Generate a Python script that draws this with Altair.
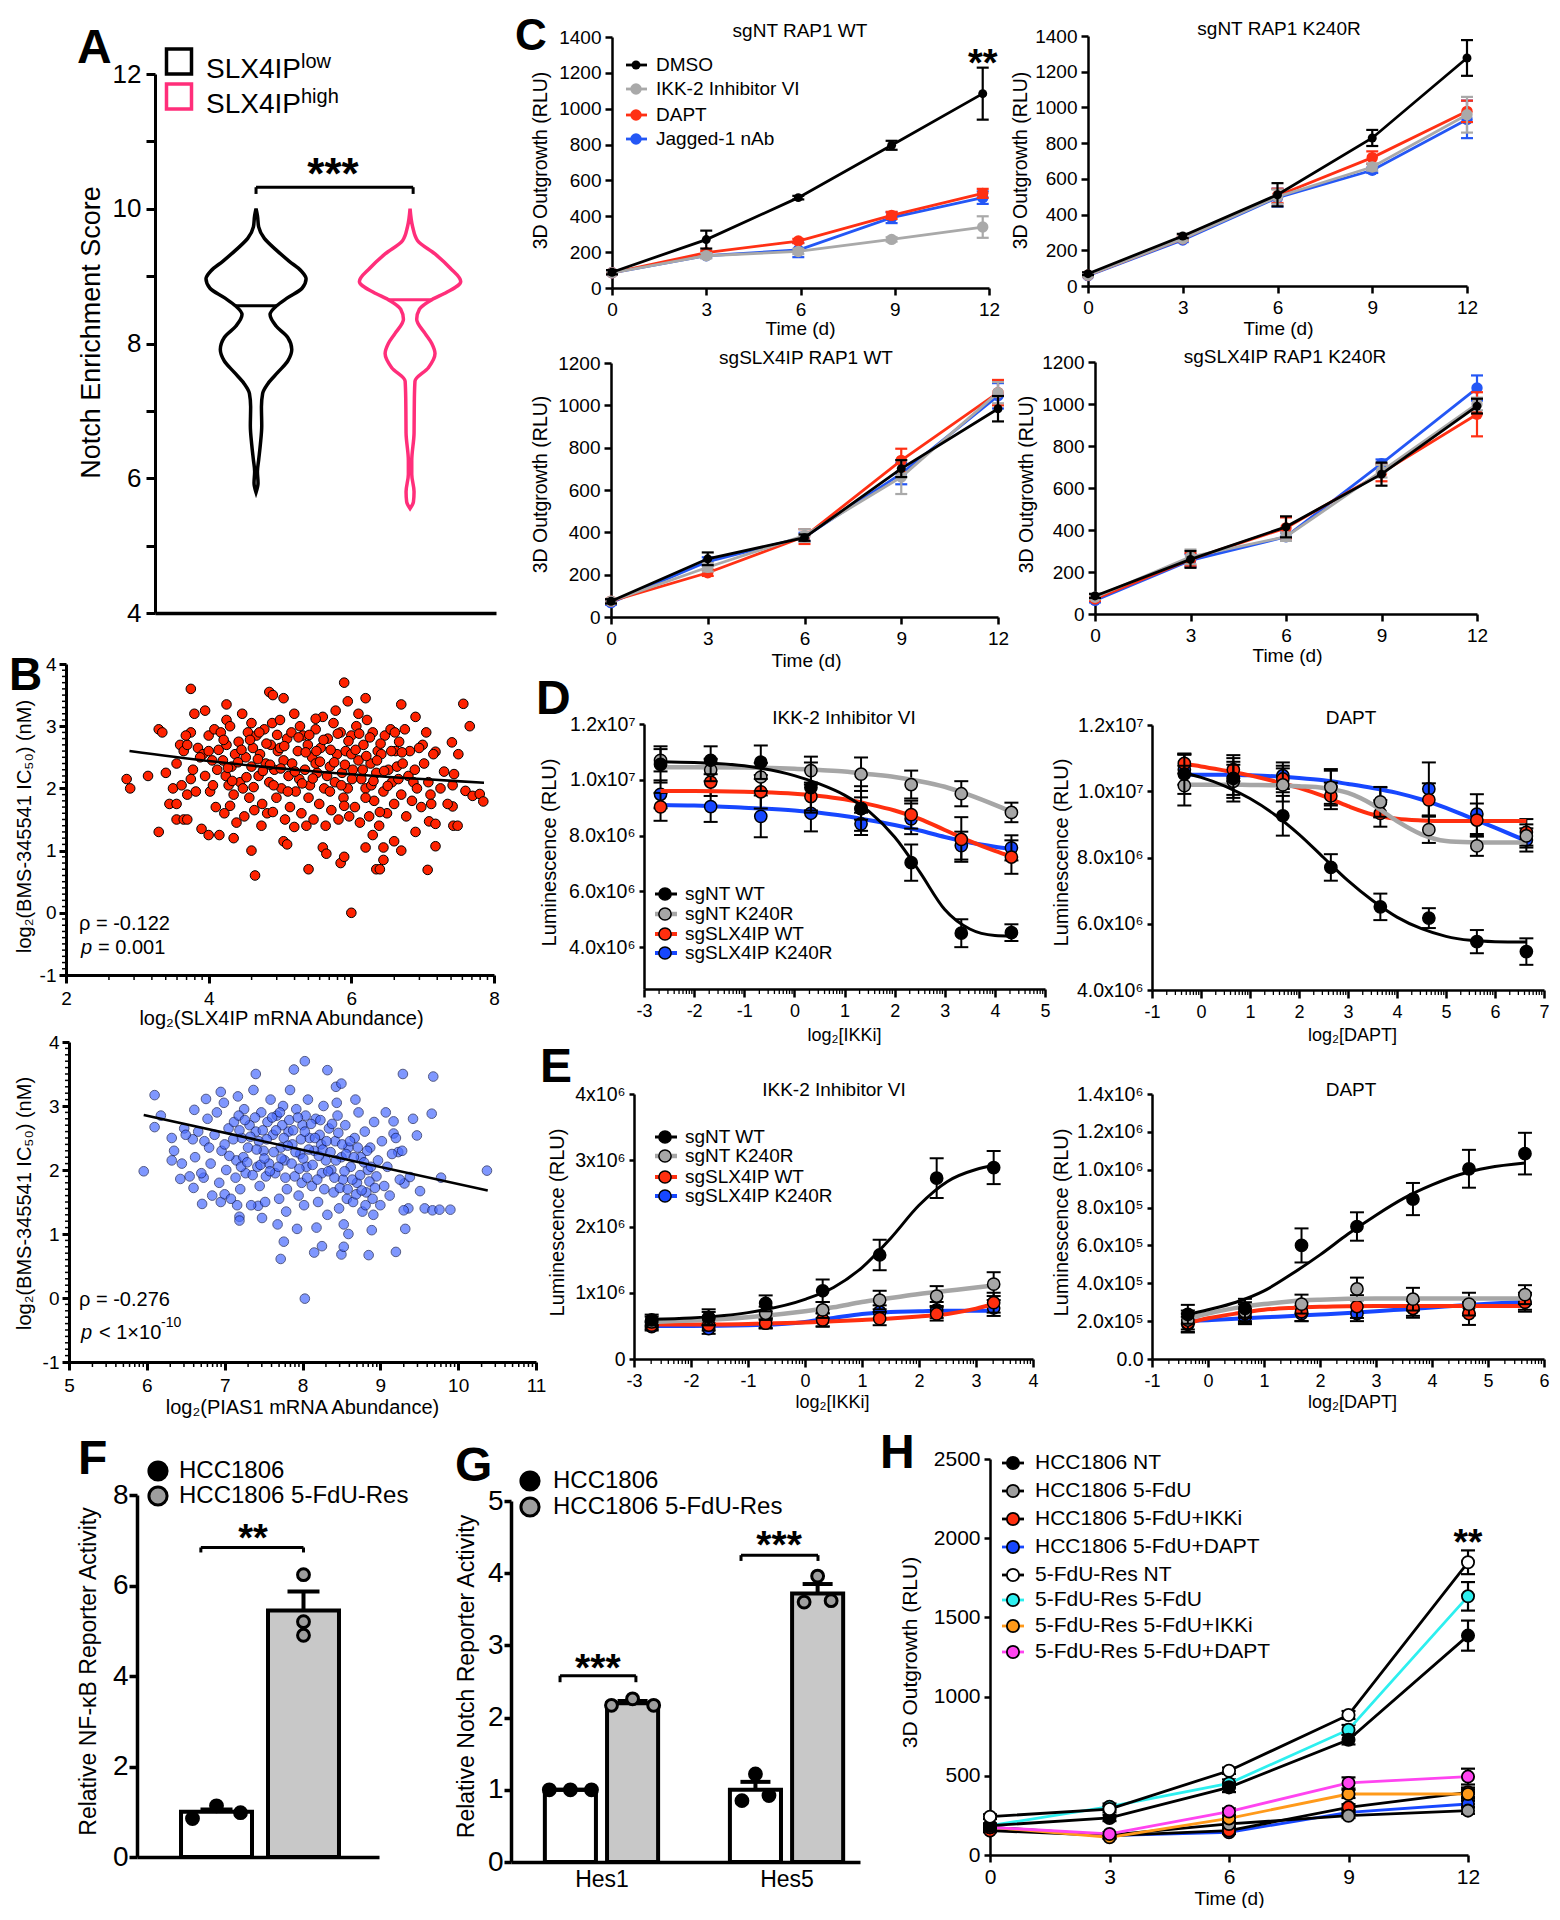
import math
import altair as alt
import pandas as pd

OFF = 8
CW, CH = 1544, 1900
FONT = "Liberation Sans"
BLACK = "#000000"
GRAY = "#A6A6A6"
RED = "#FF2F0F"
BLUE = "#1747FF"
PINK = "#FF2E7A"

# ---------------- data ----------------
# A: violin outlines (score, half width in x units)
A_LOW_V = [10.0, 9.90, 9.73, 9.56, 9.39, 9.22, 9.08, 8.96, 8.82, 8.68, 8.56, 8.43, 8.26,
           8.09, 7.91, 7.74, 7.57, 7.40, 7.26, 7.06, 6.78, 6.50, 6.27, 6.10, 5.93, 5.79]
A_LOW_HW = [0.0, 0.009, 0.017, 0.054, 0.13, 0.216, 0.292, 0.325, 0.299, 0.206, 0.134, 0.091, 0.13,
            0.206, 0.232, 0.206, 0.141, 0.076, 0.043, 0.035, 0.037, 0.028, 0.017, 0.009, 0.013, 0.0]
A_HIGH_V = [10.0, 9.73, 9.53, 9.33, 9.12, 8.92, 8.76, 8.65, 8.51, 8.36, 8.15, 8.0, 7.85,
            7.64, 7.44, 7.18, 6.67, 6.26, 6.06, 5.80, 5.65, 5.55]
A_HIGH_HW = [0.0, 0.017, 0.048, 0.162, 0.26, 0.329, 0.238, 0.141, 0.061, 0.043, 0.097, 0.141, 0.162,
             0.119, 0.032, 0.028, 0.026, 0.011, 0.011, 0.026, 0.022, 0.0]
A_MEDIAN = [8.56, 8.65]
A_MEDIAN_HW = [0.13, 0.145]
A_GROUPS = ["SLX4IP", "SLX4IP"]
A_SUPS = ["low", "high"]

# C: 3D outgrowth
C_SERIES = ["DMSO", "IKK-2 Inhibitor VI", "DAPT", "Jagged-1 nAb"]
C_TIME = [0, 3, 6, 9, 12]
C1_TIME = [0, 3, 5.93, 8.9, 11.8]
C1_MEAN = [[88, 270, 504, 796, 1084], [85, 180, 204, 271, 340], [85, 197, 262, 405, 528], [85, 180, 212, 392, 504]]
C1_ERR = [[12, 50, 10, 25, 145], [10, 15, 15, 12, 60], [8, 10, 12, 20, 25], [8, 10, 40, 30, 35]]
C2_MEAN = [[69, 280, 511, 829, 1277], [60, 265, 500, 666, 959], [60, 265, 505, 719, 978], [58, 258, 495, 648, 933]]
C2_ERR = [[8, 12, 65, 45, 100], [8, 12, 40, 20, 100], [8, 12, 40, 35, 60], [8, 12, 50, 15, 105]]
C3_MEAN = [[74, 275, 375, 701, 984], [75, 235, 385, 661, 1060], [75, 209, 380, 740, 1060], [68, 262, 378, 677, 1045]]
C3_ERR = [[10, 30, 15, 40, 60], [10, 20, 30, 80, 50], [10, 15, 35, 55, 60], [10, 20, 20, 50, 60]]
C4_MEAN = [[86, 260, 415, 666, 990], [80, 272, 368, 680, 1000], [72, 260, 410, 672, 951], [65, 255, 368, 716, 1076]]
C4_ERR = [[10, 40, 50, 55, 35], [10, 35, 20, 30, 30], [10, 30, 50, 40, 105], [10, 30, 20, 20, 60]]
C_TITLES = ["sgNT RAP1 WT", "sgNT RAP1 K240R", "sgSLX4IP RAP1 WT", "sgSLX4IP RAP1 K240R"]

# B: scatter (x, y)
B1_XY = [
    (2.85, 2.15), (2.9, 2.0), (3.15, 2.2), (3.3, 2.95), (3.35, 2.9), (3.3, 1.3), (3.4, 2.25), (3.5, 2.0),
    (3.45, 1.75), (3.55, 1.75), (3.55, 1.5), (3.65, 1.5), (3.7, 1.5), (3.6, 2.7), (3.65, 2.6), (3.75, 3.6),
    (3.75, 2.9), (3.8, 3.2), (3.75, 2.15), (3.7, 1.9), (3.85, 2.65), (3.9, 1.35), (3.95, 3.25), (4.0, 2.85),
    (4.0, 1.25), (4.15, 1.25), (4.35, 1.2), (4.25, 3.35), (4.25, 3.1), (4.6, 1.0), (4.65, 0.6), (4.85, 3.55),
    (4.9, 3.5), (5.05, 3.45), (5.05, 1.15), (5.1, 1.1), (5.4, 0.7), (5.6, 1.05), (5.65, 0.95), (5.85, 0.8),
    (5.9, 3.7), (5.95, 3.4), (5.9, 0.9), (6.0, 0.0), (6.1, 3.2), (6.2, 3.45), (6.2, 1.05), (6.3, 1.25),
    (6.35, 0.7), (6.4, 0.7), (6.45, 0.85), (6.45, 1.05), (6.6, 1.15), (6.7, 3.35), (6.7, 1.0), (6.9, 3.15),
    (6.9, 1.3), (7.0, 2.7), (7.09, 1.47), (7.07, 0.69), (7.11, 1.9), (7.18, 1.43), (7.18, 1.07), (7.18, 2.59),
    (7.41, 2.74), (7.3, 2.27), (7.44, 2.23), (7.42, 1.71), (7.43, 1.4), (7.49, 1.4), (7.6, 1.96), (7.57, 3.36),
    (7.66, 3.0), (7.7, 1.88), (7.8, 1.91), (7.85, 1.79),
    (3.92, 2.55), (3.95, 2.2), (4.0, 2.6), (4.02, 1.95), (4.05, 2.45), (4.08, 2.95), (4.1, 1.7), (4.12, 2.3),
    (4.14, 2.62), (4.06, 2.05), (4.17, 2.9), (4.2, 2.45), (4.22, 1.6), (4.25, 2.7), (4.28, 2.05), (4.3, 3.0),
    (4.32, 2.35), (4.35, 1.9), (4.37, 2.55), (4.39, 1.45), (4.24, 2.2), (4.42, 2.75), (4.44, 2.1), (4.47, 3.2),
    (4.5, 1.55), (4.52, 2.5), (4.55, 2.9), (4.57, 1.85), (4.6, 2.35), (4.62, 2.65), (4.64, 1.65), (4.48, 2.0),
    (4.67, 2.85), (4.7, 2.2), (4.72, 2.55), (4.75, 1.75), (4.78, 2.95), (4.8, 2.4), (4.82, 1.6), (4.85, 2.1),
    (4.87, 2.7), (4.89, 3.05), (4.74, 1.4), (4.92, 2.3), (4.95, 1.85), (4.97, 2.6), (5.0, 3.1), (5.02, 2.0),
    (5.05, 2.45), (5.07, 1.5), (5.1, 2.8), (5.12, 2.2), (5.14, 1.7), (5.0, 2.65), (5.17, 2.4), (5.2, 3.2),
    (5.22, 1.95), (5.25, 2.6), (5.27, 2.15), (5.3, 1.6), (5.32, 2.85), (5.35, 2.3), (5.37, 1.4), (5.39, 2.7),
    (5.28, 3.0), (5.42, 2.05), (5.45, 2.5), (5.47, 1.5), (5.5, 2.95), (5.52, 2.25), (5.55, 1.75), (5.57, 2.65),
    (5.6, 3.15), (5.62, 2.0), (5.64, 1.4), (5.5, 2.4), (5.67, 2.8), (5.7, 2.35), (5.72, 1.65), (5.75, 3.05),
    (5.77, 2.1), (5.8, 2.55), (5.82, 1.5), (5.85, 2.9), (5.87, 2.25), (5.89, 1.85), (5.78, 3.25), (5.92, 2.6),
    (5.95, 2.0), (5.97, 1.55), (6.0, 2.85), (6.02, 2.3), (6.05, 1.7), (6.07, 3.0), (6.1, 2.45), (6.12, 1.45),
    (6.14, 2.15), (6.0, 2.55), (6.17, 2.7), (6.2, 2.0), (6.22, 3.1), (6.25, 1.55), (6.27, 2.4), (6.3, 2.9),
    (6.32, 1.8), (6.35, 2.25), (6.37, 2.6), (6.39, 1.4), (6.28, 2.05), (6.42, 2.55), (6.45, 1.95), (6.47, 2.85),
    (6.5, 1.6), (6.52, 2.3), (6.55, 2.95), (6.57, 2.1), (6.6, 1.75), (6.62, 2.6), (6.64, 2.35), (6.67, 2.75),
    (6.7, 1.9), (6.72, 2.4), (6.75, 2.95), (6.77, 1.55), (6.8, 2.2), (6.82, 2.6), (6.85, 1.8), (6.87, 2.1),
    (6.89, 2.3), (6.92, 2.0), (6.95, 2.65), (6.98, 1.7), (7.02, 2.4), (7.05, 2.9), (7.08, 2.1), (7.12, 1.75),
    (7.15, 2.55), (3.55, 2.4), (3.62, 2.05), (3.7, 2.7), (3.78, 2.3), (3.82, 1.95), (3.88, 2.5), (3.68, 2.85),
    (7.25, 2.0), (7.35, 1.75), (7.5, 2.55), (7.42, 2.05),
    (4.21, 2.78), (4.27, 2.33), (4.33, 2.12), (4.41, 2.42), (4.46, 2.62), (4.53, 2.18), (4.58, 2.78), (4.63, 2.02),
    (4.69, 2.47), (4.71, 2.9), (4.76, 2.28), (4.81, 2.72), (4.86, 2.38), (4.91, 2.05), (4.96, 2.86), (5.01, 2.32),
    (5.06, 2.68), (5.11, 1.95), (5.16, 2.9), (5.21, 2.27), (5.26, 2.82), (5.31, 2.08), (5.36, 2.58), (5.41, 2.86),
    (5.46, 2.16), (5.51, 2.6), (5.56, 2.43), (5.61, 2.78), (5.66, 2.2), (5.71, 2.62), (5.76, 2.42), (5.81, 2.88),
    (5.86, 2.05), (5.91, 2.38), (5.96, 2.76), (6.01, 2.15), (6.06, 2.62), (6.11, 2.88), (6.16, 2.3), (6.21, 2.52),
    (6.26, 2.82), (6.31, 2.12), (6.36, 2.45), (6.41, 2.72), (6.46, 2.28), (6.51, 2.04), (6.56, 2.6), (6.61, 2.9),
    (6.66, 2.15), (6.71, 2.58), (4.3, 1.72), (4.9, 1.62), (5.4, 1.85), (5.9, 1.72), (6.4, 1.62), (5.2, 1.38),
    (5.7, 1.95), (6.2, 1.85), (4.6, 3.05), (5.5, 3.12)]
B2_XY = [
    (5.96, 1.98), (6.1, 3.17), (6.1, 2.67), (6.18, 2.85), (6.32, 2.5), (6.32, 2.15), (6.43, 1.86), (6.48, 2.65),
    (6.6, 1.72), (6.59, 2.48), (6.61, 2.94), (6.71, 1.47), (6.73, 1.88), (6.76, 3.11), (6.95, 3.22), (6.95, 1.5),
    (7.0, 1.62), (7.16, 1.45), (7.19, 1.27), (7.19, 1.21), (7.4, 3.5), (7.43, 1.44), (7.72, 0.61), (7.76, 0.88),
    (7.89, 3.57), (7.93, 1.08), (8.03, 3.7), (8.03, -0.01), (8.15, 0.71), (8.25, 0.81), (8.32, 3.56), (8.43, 3.3),
    (8.5, 3.35), (8.5, 0.68), (8.53, 0.8), (8.59, 1.0), (8.85, 0.67), (8.89, 1.06), (9.2, 0.72), (9.29, 3.5),
    (9.32, 1.08), (9.42, 2.8), (9.47, 2.54), (9.51, 1.67), (9.57, 1.4), (9.66, 2.88), (9.68, 3.46), (9.67, 1.37),
    (9.76, 1.38), (9.78, 1.88), (9.9, 1.38), (10.37, 1.99), (9.17, 2.76), (9.17, 2.57), (9.23, 2.28), (9.31, 1.79),
    (9.36, 1.4), (9.3, 1.37), (9.38, 1.89),
    (6.62, 2.2), (6.66, 2.6), (6.7, 1.95), (6.74, 2.45), (6.78, 2.8), (6.82, 2.1), (6.84, 1.6), (6.8, 2.35),
    (6.87, 2.55), (6.9, 2.9), (6.93, 1.8), (6.96, 2.3), (6.99, 3.05), (7.02, 2.0), (7.05, 2.65), (7.08, 1.55),
    (7.0, 2.4), (7.12, 2.75), (7.15, 2.15), (7.17, 3.15), (7.2, 1.7), (7.22, 2.5), (7.25, 2.95), (7.27, 1.95),
    (7.3, 2.35), (7.32, 2.7), (7.34, 1.45), (7.24, 2.2), (7.18, 2.85), (7.37, 3.25), (7.4, 2.6), (7.42, 2.05),
    (7.45, 1.75), (7.47, 2.9), (7.5, 2.3), (7.52, 1.5), (7.55, 2.75), (7.57, 2.1), (7.59, 3.1), (7.44, 2.45),
    (7.53, 1.9), (7.48, 1.25), (7.62, 2.55), (7.65, 1.95), (7.67, 2.85), (7.7, 1.55), (7.72, 2.35), (7.75, 3.0),
    (7.77, 2.15), (7.8, 1.7), (7.82, 2.6), (7.84, 3.25), (7.68, 1.15), (7.74, 2.7), (7.79, 1.35), (7.87, 2.4),
    (7.9, 1.9), (7.92, 2.95), (7.95, 1.6), (7.97, 2.25), (8.0, 2.7), (8.02, 1.45), (8.05, 2.05), (8.07, 3.1),
    (8.09, 2.5), (7.99, 1.8), (8.04, 2.85), (8.12, 1.75), (8.15, 2.3), (8.17, 2.8), (8.2, 1.5), (8.22, 2.55),
    (8.25, 1.95), (8.27, 3.0), (8.3, 2.15), (8.32, 1.3), (8.34, 2.65), (8.18, 1.1), (8.24, 2.4), (8.37, 2.0),
    (8.4, 1.65), (8.42, 2.45), (8.45, 2.85), (8.47, 1.4), (8.5, 2.2), (8.52, 1.85), (8.55, 2.7), (8.57, 1.55),
    (8.59, 2.35), (8.44, 3.05), (8.53, 1.15), (8.62, 2.05), (8.65, 1.5), (8.67, 2.5), (8.7, 1.8), (8.72, 2.9),
    (8.75, 2.2), (8.77, 1.35), (8.8, 2.6), (8.82, 1.65), (8.84, 2.0), (8.68, 3.1), (8.87, 2.35), (8.9, 1.55),
    (8.92, 2.75), (8.95, 1.9), (8.97, 2.15), (9.0, 1.45), (9.02, 2.45), (9.05, 1.75), (9.07, 2.9), (9.09, 2.05),
    (9.12, 1.6), (9.15, 2.25), (9.2, 2.5), (9.25, 1.85), (9.28, 2.3), (6.35, 2.3), (6.45, 2.1), (6.5, 2.55),
    (6.55, 1.9),
    (7.06, 2.22), (7.11, 2.48), (7.14, 1.88), (7.19, 2.62), (7.21, 2.05), (7.26, 2.78), (7.29, 2.12), (7.33, 2.52),
    (7.36, 1.92), (7.39, 2.82), (7.41, 2.32), (7.46, 2.08), (7.49, 2.62), (7.51, 2.18), (7.54, 2.48), (7.58, 1.98),
    (7.61, 2.82), (7.63, 2.28), (7.66, 2.62), (7.69, 2.05), (7.71, 2.9), (7.73, 2.18), (7.76, 2.5), (7.78, 1.88),
    (7.81, 2.38), (7.83, 2.78), (7.86, 2.1), (7.88, 2.62), (7.91, 2.28), (7.94, 2.82), (7.96, 2.02), (7.98, 2.48),
    (8.01, 2.18), (8.03, 2.6), (8.06, 1.88), (8.08, 2.32), (8.11, 2.72), (8.13, 2.08), (8.16, 2.5), (8.19, 1.85),
    (8.21, 2.22), (8.23, 2.78), (8.26, 2.32), (8.28, 1.7), (8.31, 2.45), (8.33, 1.98), (8.36, 2.28), (8.38, 2.72),
    (8.41, 1.88), (8.43, 2.15), (8.46, 2.58), (8.48, 1.72), (8.51, 2.4), (8.54, 1.98), (8.56, 2.25), (8.58, 1.7),
    (8.61, 2.45), (8.64, 1.85), (8.66, 2.2), (8.69, 1.62), (8.71, 2.35), (8.74, 1.92), (8.76, 1.68), (8.79, 2.12),
    (8.81, 1.45), (8.83, 2.3), (8.86, 1.82), (8.88, 2.05), (8.91, 1.3), (8.93, 1.72)]
B1_LINE_X = [2.89, 4.0, 5.5, 7.86]
B1_LINE_Y = [2.60, 2.44, 2.27, 2.09]
B2_LINE_X = [5.96, 10.38]
B2_LINE_Y = [2.86, 1.68]

# D / E: dose response
DE_SERIES = ["sgNT WT", "sgNT K240R", "sgSLX4IP WT", "sgSLX4IP K240R"]
D1_X = [-2.67, -1.67, -0.67, 0.33, 1.33, 2.33, 3.33, 4.33]
D1_MEAN = [[10.55, 10.7, 10.63, 9.72, 8.97, 7.03, 4.5, 4.52],
           [10.7, 10.35, 10.1, 10.33, 10.2, 9.83, 9.5, 8.83],
           [9.03, 9.92, 9.57, 9.4, 8.97, 8.75, 7.86, 7.23],
           [9.48, 9.04, 8.69, 8.8, 8.42, 8.6, 7.64, 7.56]]
D1_ERR = [[0.65, 0.5, 0.6, 0.9, 0.8, 0.65, 0.5, 0.3],
          [0.4, 0.4, 0.5, 0.5, 0.6, 0.5, 0.45, 0.35],
          [0.5, 0.5, 0.6, 0.5, 0.4, 0.5, 0.8, 0.6],
          [0.5, 0.55, 0.75, 0.65, 0.4, 0.55, 0.5, 0.45]]
D1_CX = [-2.67, -2, -1, 0, 0.5, 1, 1.5, 2, 2.5, 3, 3.5, 4, 4.33]
D1_CURVE = [[10.65, 10.62, 10.5, 10.15, 9.85, 9.45, 8.85, 7.95, 6.7, 5.35, 4.65, 4.42, 4.4],
            [10.45, 10.45, 10.44, 10.4, 10.35, 10.3, 10.2, 10.1, 9.95, 9.75, 9.45, 9.1, 8.85],
            [9.6, 9.6, 9.57, 9.5, 9.42, 9.3, 9.12, 8.9, 8.6, 8.2, 7.8, 7.45, 7.25],
            [9.1, 9.08, 9.0, 8.9, 8.82, 8.7, 8.55, 8.38, 8.18, 7.95, 7.75, 7.6, 7.52]]
D2_X = [-0.34, 0.66, 1.67, 2.65, 3.66, 4.65, 5.63, 6.64]
D2_MEAN = [[10.52, 10.39, 9.26, 7.7, 6.51, 6.17, 5.46, 5.16],
           [10.17, 10.3, 10.19, 10.12, 9.68, 8.84, 8.35, 8.65],
           [10.84, 10.65, 10.37, 9.86, 9.33, 9.74, 9.13, 8.76],
           [10.65, 10.39, 10.47, 10.12, 9.66, 10.07, 9.31, 8.53]]
D2_ERR = [[0.6, 0.7, 0.6, 0.4, 0.4, 0.3, 0.35, 0.4],
          [0.6, 0.5, 0.5, 0.55, 0.45, 0.4, 0.3, 0.35],
          [0.3, 0.35, 0.4, 0.4, 0.4, 0.5, 0.5, 0.4],
          [0.45, 0.5, 0.4, 0.5, 0.45, 0.8, 0.6, 0.35]]
D2_CX = [-0.34, 0, 0.5, 1, 1.5, 2, 2.5, 3, 3.5, 4, 4.5, 5, 5.5, 6, 6.64]
D2_CURVE = [[10.55, 10.42, 10.15, 9.78, 9.3, 8.7, 8.0, 7.3, 6.7, 6.2, 5.85, 5.62, 5.5, 5.46, 5.45],
            [10.2, 10.2, 10.2, 10.19, 10.18, 10.15, 10.1, 9.95, 9.6, 9.1, 8.7, 8.5, 8.46, 8.45, 8.45],
            [10.82, 10.75, 10.62, 10.48, 10.3, 10.1, 9.85, 9.55, 9.3, 9.17, 9.12, 9.1, 9.1, 9.1, 9.1],
            [10.5, 10.5, 10.5, 10.48, 10.45, 10.4, 10.33, 10.22, 10.1, 9.95, 9.75, 9.5, 9.2, 8.9, 8.5]]
E1_X = [-2.69, -1.69, -0.69, 0.31, 1.31, 2.31, 3.31]
E1_MEAN = [[0.59, 0.63, 0.84, 1.03, 1.57, 2.73, 2.89],
           [0.56, 0.61, 0.69, 0.74, 0.89, 0.95, 1.13],
           [0.51, 0.51, 0.54, 0.59, 0.61, 0.68, 0.85],
           [0.49, 0.46, 0.54, 0.59, 0.71, 0.74, 0.77]]
E1_ERR = [[0.08, 0.12, 0.12, 0.17, 0.23, 0.3, 0.25],
          [0.08, 0.1, 0.1, 0.12, 0.14, 0.15, 0.18],
          [0.06, 0.08, 0.07, 0.1, 0.1, 0.1, 0.15],
          [0.06, 0.08, 0.08, 0.1, 0.1, 0.12, 0.12]]
E1_CX = [-2.69, -2, -1, 0, 0.5, 1, 1.5, 2, 2.5, 3, 3.31]
E1_CURVE = [[0.6, 0.62, 0.7, 0.9, 1.08, 1.38, 1.82, 2.32, 2.68, 2.86, 2.92],
            [0.56, 0.58, 0.63, 0.72, 0.78, 0.86, 0.92, 0.98, 1.03, 1.08, 1.11],
            [0.52, 0.52, 0.53, 0.55, 0.57, 0.59, 0.61, 0.64, 0.68, 0.76, 0.83],
            [0.5, 0.5, 0.51, 0.56, 0.62, 0.68, 0.71, 0.72, 0.73, 0.73, 0.73]]
E2_X = [-0.36, 0.66, 1.67, 2.66, 3.66, 4.66, 5.66]
E2_MEAN = [[0.236, 0.268, 0.60, 0.70, 0.845, 1.005, 1.085],
           [0.206, 0.25, 0.29, 0.37, 0.316, 0.29, 0.34],
           [0.19, 0.24, 0.25, 0.277, 0.268, 0.24, 0.30],
           [0.183, 0.224, 0.24, 0.24, 0.268, 0.28, 0.30]]
E2_ERR = [[0.05, 0.05, 0.09, 0.075, 0.085, 0.1, 0.11],
          [0.05, 0.05, 0.05, 0.06, 0.06, 0.06, 0.05],
          [0.05, 0.05, 0.05, 0.06, 0.05, 0.06, 0.05],
          [0.04, 0.04, 0.04, 0.04, 0.04, 0.04, 0.04]]
E2_CX = [-0.36, 0, 0.5, 1, 1.5, 2, 2.5, 3, 3.5, 4, 4.5, 5, 5.66]
E2_CURVE = [[0.235, 0.26, 0.3, 0.36, 0.45, 0.55, 0.66, 0.76, 0.85, 0.92, 0.975, 1.01, 1.035],
            [0.215, 0.24, 0.27, 0.29, 0.305, 0.313, 0.318, 0.32, 0.32, 0.32, 0.32, 0.32, 0.32],
            [0.19, 0.215, 0.24, 0.26, 0.27, 0.276, 0.279, 0.28, 0.28, 0.28, 0.28, 0.28, 0.28],
            [0.2, 0.205, 0.212, 0.22, 0.227, 0.235, 0.243, 0.252, 0.262, 0.272, 0.283, 0.292, 0.302]]

# F / G: reporter bars
FG_GROUPS = ["HCC1806", "HCC1806 5-FdU-Res"]
F_MEAN = [1.0, 5.45]
F_ERR = [0.05, 0.42]
F_POINTS = [[0.85, 1.13, 0.98], [6.24, 5.2, 4.9]]
G_GENES = ["Hes1", "Hes5"]
G_MEAN = [[1.0, 2.2], [1.0, 3.72]]
G_ERR = [[0.0, 0.03], [0.11, 0.13]]
G_POINTS = [[[1.0, 1.0, 1.0], [2.17, 2.26, 2.17]], [[0.85, 1.22, 0.92], [3.6, 3.96, 3.62]]]

# H: 3D outgrowth
H_SERIES = ["HCC1806 NT", "HCC1806 5-FdU", "HCC1806 5-FdU+IKKi", "HCC1806 5-FdU+DAPT",
            "5-FdU-Res NT", "5-FdU-Res 5-FdU", "5-FdU-Res 5-FdU+IKKi", "5-FdU-Res 5-FdU+DAPT"]
H_TIME = [0, 3, 6, 9, 12]
H_MEAN = [[185, 234, 427, 728, 1385], [175, 126, 196, 248, 280], [154, 122, 154, 301, 396],
          [175, 122, 143, 269, 322], [242, 290, 532, 884, 1848], [185, 305, 452, 791, 1633],
          [175, 112, 231, 385, 385], [175, 133, 274, 455, 495]]
H_ERR = [[15, 20, 30, 30, 95], [10, 15, 15, 15, 20], [10, 10, 15, 20, 30], [10, 10, 10, 15, 20],
         [15, 20, 20, 25, 75], [10, 20, 25, 30, 90], [10, 10, 20, 25, 30], [10, 10, 20, 35, 50]]

# ---------------- helpers ----------------
ONE = pd.DataFrame({"k": [0]})


def c(v):
    return v - OFF


class Panel:
    def __init__(self, xdom, ydom, l, r, t, b):
        self.xdom, self.ydom = list(xdom), list(ydom)
        self.l, self.r, self.t, self.b = l, r, t, b
        self.xs = alt.Scale(domain=self.xdom, range=[c(l), c(r)], nice=False, zero=False)
        self.ys = alt.Scale(domain=self.ydom, range=[c(b), c(t)], nice=False, zero=False)
        self.layers = []

    def upx(self):
        return (self.xdom[1] - self.xdom[0]) / (self.r - self.l)

    def X(self, f, axis=alt.Undefined):
        return alt.X(f, type="quantitative", scale=self.xs, axis=axis)

    def Y(self, f, axis=alt.Undefined):
        return alt.Y(f, type="quantitative", scale=self.ys, axis=axis)

    def add(self, *ls):
        self.layers.extend(ls)

    def chart(self):
        return alt.layer(*self.layers)


NUM = "'' + datum.value"


def ax_bottom(p, lsize=18, values=None, title=None, tsize=18, tdy=40, tx=None, tick=7, w=2.5, pad=5,
              expr=NUM, labels=True, ticks=True):
    kw = dict(orient="bottom", offset=c(p.b) - CH, grid=False, labelFlush=False, labelOverlap=False,
              labelAngle=0, domainColor="black", domainWidth=w, tickColor="black", tickWidth=w,
              tickSize=tick, labelColor="black", labelFontSize=lsize, labelFont=FONT, labelPadding=pad,
              ticks=ticks, labels=labels)
    if values is not None:
        kw["values"] = values
    if expr and labels:
        kw["labelExpr"] = expr
    if title:
        kw.update(title=title, titleX=c(tx if tx is not None else (p.l + p.r) / 2), titleY=tdy,
                  titleAngle=0, titleAlign="center", titleBaseline="middle", titleFontSize=tsize,
                  titleFontWeight="normal", titleFont=FONT, titleColor="black")
    else:
        kw["title"] = ""
    return alt.Axis(**kw)


def ax_left(p, lsize=18, values=None, title=None, tsize=18, tdx=-60, ty=None, tick=7, w=2.5, pad=4, expr=NUM):
    kw = dict(orient="left", offset=-c(p.l), grid=False, labelFlush=False, labelOverlap=False,
              domainColor="black", domainWidth=w, tickColor="black", tickWidth=w, tickSize=tick,
              labelColor="black", labelFontSize=lsize, labelFont=FONT, labelPadding=pad)
    if values is not None:
        kw["values"] = values
    if expr:
        kw["labelExpr"] = expr
    if title:
        kw.update(title=title, titleX=tdx, titleY=c(ty if ty is not None else (p.t + p.b) / 2),
                  titleAngle=270, titleAlign="center", titleBaseline="middle", titleFontSize=tsize,
                  titleFontWeight="normal", titleFont=FONT, titleColor="black")
    else:
        kw["title"] = ""
    return alt.Axis(**kw)


def axis_layer(p, xaxis, yaxis):
    df = pd.DataFrame({"ax": p.xdom, "ay": p.ydom})
    return alt.Chart(df).mark_point(opacity=0).encode(x=p.X("ax", xaxis), y=p.Y("ay", yaxis))


def ptext(x, y, text, size, weight="normal", align="left", baseline="middle", style="normal"):
    return alt.Chart(ONE).mark_text(text=text, font=FONT, fontSize=size, fontWeight=weight, fontStyle=style,
                                    align=align, baseline=baseline, color="black").encode(
        x=alt.value(c(x)), y=alt.value(c(y)))


def prule(x1, y1, x2, y2, color, w):
    return alt.Chart(ONE).mark_rule(color=color, strokeWidth=w).encode(
        x=alt.value(c(x1)), x2=alt.value(c(x2)), y=alt.value(c(y1)), y2=alt.value(c(y2)))


def ppoint(x, y, fill, size, stroke=None, sw=0.0, shape="circle", filled=True):
    mk = dict(shape=shape, filled=filled, size=size, opacity=1)
    if filled:
        mk["fill"] = fill
    if stroke:
        mk.update(stroke=stroke, strokeWidth=sw)
    return alt.Chart(ONE).mark_point(**mk).encode(x=alt.value(c(x)), y=alt.value(c(y)))


def dtext(p, x, y, text, size, weight="bold", dy=0.0):
    df = pd.DataFrame({"tx": [x], "ty": [y]})
    return alt.Chart(df).mark_text(text=text, font=FONT, fontSize=size, fontWeight=weight, align="center",
                                   baseline="middle", dy=dy, color="black").encode(x=p.X("tx"), y=p.Y("ty"))


def stars(p, x, y, text, size):
    return dtext(p, x, y, text, size, dy=0.26 * size)


def series(p, x, m, e, color, line_color=None, line_w=2.5, size=110, stroke=None, sw=0.0,
           err_color=None, err_w=2.0, cap_px=6, cx=None, cy=None):
    out = []
    cu = cap_px * p.upx()
    lo = [a - b for a, b in zip(m, e)]
    hi = [a + b for a, b in zip(m, e)]
    ed = pd.DataFrame({"x": x, "lo": lo, "hi": hi})
    cd = pd.DataFrame({"xl": [v - cu for v in x] * 2, "xr": [v + cu for v in x] * 2, "cy": hi + lo})
    ec = err_color or color
    out.append(alt.Chart(ed).mark_rule(color=ec, strokeWidth=err_w).encode(x=p.X("x"), y=p.Y("lo"), y2="hi"))
    out.append(alt.Chart(cd).mark_rule(color=ec, strokeWidth=err_w).encode(x=p.X("xl"), x2="xr", y=p.Y("cy")))
    if cx is not None:
        ld = pd.DataFrame({"lx": cx, "ly": cy})
        out.append(alt.Chart(ld).mark_line(color=line_color or color, strokeWidth=line_w,
                                           interpolate="monotone").encode(x=p.X("lx"), y=p.Y("ly")))
    else:
        ld = pd.DataFrame({"lx": x, "ly": m})
        out.append(alt.Chart(ld).mark_line(color=line_color or color, strokeWidth=line_w).encode(
            x=p.X("lx"), y=p.Y("ly")))
    md = pd.DataFrame({"px": x, "py": m})
    mk = dict(size=size, color=color, opacity=1)
    if stroke:
        mk.update(stroke=stroke, strokeWidth=sw)
    out.append(alt.Chart(md).mark_circle(**mk).encode(x=p.X("px"), y=p.Y("py")))
    return out


def log_minors(a, b, step):
    out = []
    v = a
    while v < b - 1e-9:
        for k in range(2, 10):
            out.append(v + step * math.log10(k))
        v += step
    return out


def xminor(p, vals, length=5, w=1.5):
    df = pd.DataFrame({"mv": vals})
    return alt.Chart(df).mark_rule(color="black", strokeWidth=w).encode(
        x=p.X("mv"), y=alt.value(c(p.b)), y2=alt.value(c(p.b) + length))


def yminor(p, vals, length=4, w=1.5):
    df = pd.DataFrame({"mv": vals})
    return alt.Chart(df).mark_rule(color="black", strokeWidth=w).encode(
        y=p.Y("mv"), x=alt.value(c(p.l) - length), x2=alt.value(c(p.l)))


panels = []

# ---------------- A ----------------
pA = Panel((0.344, 2.558), (4, 12), 155, 496, 74, 613)
pA.add(axis_layer(pA, ax_bottom(pA, labels=False, ticks=False, w=3.5, expr=None),
                  ax_left(pA, 26, list(range(4, 13)), "Notch Enrichment Score", 27, -64, 332, tick=9, w=3, pad=5,
                          expr="datum.value % 2 == 0 ? '' + datum.value : ''")))
for center, V, HW, col, med, mhw in [(1, A_LOW_V, A_LOW_HW, BLACK, A_MEDIAN[0], A_MEDIAN_HW[0]),
                                     (2, A_HIGH_V, A_HIGH_HW, PINK, A_MEDIAN[1], A_MEDIAN_HW[1])]:
    vd = pd.DataFrame({"v": V, "vlo": [center - h for h in HW], "vhi": [center + h for h in HW]})
    pA.add(alt.Chart(vd).mark_area(orient="horizontal", interpolate="monotone", fill="white", stroke=col,
                                   strokeWidth=3.5).encode(y=pA.Y("v"), x=pA.X("vlo"), x2="vhi"))
    md = pd.DataFrame({"mv": [med], "mlo": [center - mhw], "mhi": [center + mhw]})
    pA.add(alt.Chart(md).mark_rule(color=col, strokeWidth=3).encode(y=pA.Y("mv"), x=pA.X("mlo"), x2="mhi"))
bd = pd.DataFrame({"bx": [1.0], "bx2": [2.02], "by": [10.32]})
pA.add(alt.Chart(bd).mark_rule(color="black", strokeWidth=3).encode(x=pA.X("bx"), x2="bx2", y=pA.Y("by")))
ld = pd.DataFrame({"lx": [1.0, 2.02], "l0": [10.22, 10.22], "l1": [10.32, 10.32]})
pA.add(alt.Chart(ld).mark_rule(color="black", strokeWidth=3).encode(x=pA.X("lx"), y=pA.Y("l0"), y2="l1"))
pA.add(stars(pA, 1.5, 10.66, "***", 44))
for i, (col, cy) in enumerate([(BLACK, 61.5), (PINK, 96.5)]):
    pA.add(ppoint(179, cy, None, 625, stroke=col, sw=3.5, shape="square", filled=False))
    pA.add(ptext(206, cy + 16, A_GROUPS[i], 28, baseline="alphabetic"))
    pA.add(ptext(301, cy + 6.5, A_SUPS[i], 20, baseline="alphabetic"))
panels.append(pA)

# ---------------- C ----------------
C_COLORS = [BLACK, "#A9A9A9", "#FF3014", "#2457F5"]
C_ORDER = [3, 2, 1, 0]
C_GEOM = [
    dict(l=612, r=989, t=37, b=288, ymax=1400, title=(800, 31), ytx=-72, yty=160, xtx=800, xty=40),
    dict(l=1088, r=1467, t=36, b=286, ymax=1400, title=(1279, 29), ytx=-68, yty=160, xtx=1278, xty=42),
    dict(l=611, r=998, t=363, b=617, ymax=1200, title=(806, 358), ytx=-71, yty=484, xtx=806, xty=43),
    dict(l=1095, r=1477, t=362, b=614, ymax=1200, title=(1285, 357), ytx=-69, yty=484, xtx=1287, xty=41),
]
C_DATA = [(C1_TIME, C1_MEAN, C1_ERR), (C_TIME, C2_MEAN, C2_ERR), (C_TIME, C3_MEAN, C3_ERR), (C_TIME, C4_MEAN, C4_ERR)]
for k, g in enumerate(C_GEOM):
    p = Panel((0, 12), (0, g["ymax"]), g["l"], g["r"], g["t"], g["b"])
    p.add(axis_layer(p, ax_bottom(p, 19, C_TIME, "Time (d)", 19, g["xty"], tx=g["xtx"], tick=7, w=2.5, pad=5),
                     ax_left(p, 19, list(range(0, g["ymax"] + 1, 200)), "3D Outgrowth (RLU)", 19.5, g["ytx"],
                             g["yty"], tick=7, w=2.5, pad=4)))
    tx, mm, ee = C_DATA[k]
    for i in C_ORDER:
        p.add(*series(p, tx, mm[i], ee[i], C_COLORS[i], line_w=2.8, size=(80 if i == 0 else 130),
                      err_w=2.2, cap_px=6))
    p.add(ptext(g["title"][0], g["title"][1], C_TITLES[k], 19, align="center"))
    if k == 0:
        for i, yy in enumerate([65, 89, 115, 139]):
            p.add(prule(626, yy, 647, yy, C_COLORS[i], 2.8))
            p.add(ppoint(636, yy, C_COLORS[i], 80 if i == 0 else 130))
            p.add(ptext(656, yy, C_SERIES[i], 19))
        p.add(stars(p, 11.8, 1300, "**", 38))
    panels.append(p)

# ---------------- B ----------------
B_GEOM = [
    dict(xy=B1_XY, xdom=(2, 8), l=66, r=494, t=664, b=975, xt="log₂(SLX4IP mRNA Abundance)", xtx=281, xty=43,
         xv=[2, 4, 6, 8], minors=log_minors(2, 8, 2), ytx=-42, yty=826, lx=B1_LINE_X, ly=B1_LINE_Y,
         fill="#FF2200", op=1.0, stroke="#000000", rho="ρ = -0.122", ry=924, py=948),
    dict(xy=B2_XY, xdom=(5, 11), l=69, r=536, t=1042, b=1362, xt="log₂(PIAS1 mRNA Abundance)", xtx=302, xty=45,
         xv=list(range(5, 12)), minors=log_minors(5, 11, 1), ytx=-45, yty=1203, lx=B2_LINE_X, ly=B2_LINE_Y,
         fill="#4A6CFF", op=0.7, stroke="#0A1450", rho="ρ = -0.276", ry=1300, py=1333),
]
for k, g in enumerate(B_GEOM):
    p = Panel(g["xdom"], (-1, 4), g["l"], g["r"], g["t"], g["b"])
    p.add(axis_layer(p, ax_bottom(p, 19, g["xv"], g["xt"], 20, g["xty"], tx=g["xtx"], tick=8, w=3, pad=6),
                     ax_left(p, 19, list(range(-1, 5)), "log₂(BMS-345541 IC₅₀) (nM)", 20, g["ytx"], g["yty"],
                             tick=7, w=3, pad=3)))
    p.add(xminor(p, g["minors"], 5, 1.5))
    p.add(yminor(p, [-1 + 0.1 * i for i in range(51) if i % 10 != 0], 4, 1.5))
    sd = pd.DataFrame({"sx": [a for a, b in g["xy"]], "sy": [b for a, b in g["xy"]]})
    p.add(alt.Chart(sd).mark_circle(size=92, color=g["fill"], opacity=g["op"], stroke=g["stroke"],
                                    strokeWidth=1).encode(x=p.X("sx"), y=p.Y("sy")))
    rl = pd.DataFrame({"rx": g["lx"], "ry": g["ly"]})
    p.add(alt.Chart(rl).mark_line(color="black", strokeWidth=2.5, interpolate="monotone").encode(
        x=p.X("rx"), y=p.Y("ry")))
    p.add(ptext(79, g["ry"], g["rho"], 20))
    p.add(ptext(81, g["py"], "p", 20, style="italic"))
    if k == 0:
        p.add(ptext(98, g["py"], "= 0.001", 20))
    else:
        p.add(ptext(99, g["py"], "< 1×10", 20))
        p.add(ptext(161, g["py"] - 10, "-10", 14))
    panels.append(p)

# ---------------- D / E ----------------
DE_COLORS = [BLACK, GRAY, RED, BLUE]
DE_LW = [3.0, 4.5, 4.0, 4.0]
DE_ORDER = [3, 2, 1, 0]
LBL_D = "datum.value >= 10 ? format(datum.value / 10, '.1f') + 'x10⁷' : format(datum.value, '.1f') + 'x10⁶'"
LBL_E1 = "datum.value == 0 ? '0' : datum.value + 'x10⁶'"
LBL_E2 = ("datum.value < 0.01 ? '0.0' : datum.value < 0.99 ? format(datum.value * 10, '.1f') + 'x10⁵' : "
          "format(datum.value, '.1f') + 'x10⁶'")
DE_GEOM = [
    dict(xdom=(-3, 5), ydom=(2.5, 12), l=644, r=1045, t=724, b=989, yv=[4, 6, 8, 10, 12], expr=LBL_D,
         xt="log₂[IKKi]", xtx=844, xty=46, ytx=-95, yty=852, title="IKK-2 Inhibitor VI", tpos=(844, 718),
         X=D1_X, M=D1_MEAN, E=D1_ERR, CX=D1_CX, CY=D1_CURVE, legend=[894, 914, 934, 953]),
    dict(xdom=(-1, 7), ydom=(4, 12), l=1152, r=1544, t=725, b=990, yv=[4, 6, 8, 10, 12], expr=LBL_D,
         xt="log₂[DAPT]", xtx=1352, xty=45, ytx=-91, yty=852, title="DAPT", tpos=(1351, 718),
         X=D2_X, M=D2_MEAN, E=D2_ERR, CX=D2_CX, CY=D2_CURVE, legend=None),
    dict(xdom=(-3, 4), ydom=(0, 4), l=634, r=1033, t=1094, b=1359, yv=[0, 1, 2, 3, 4], expr=LBL_E1,
         xt="log₂[IKKi]", xtx=832, xty=43, ytx=-77, yty=1222, title="IKK-2 Inhibitor VI", tpos=(834, 1090),
         X=E1_X, M=E1_MEAN, E=E1_ERR, CX=E1_CX, CY=E1_CURVE, legend=[1137, 1156, 1177, 1196]),
    dict(xdom=(-1, 6), ydom=(0, 1.4), l=1152, r=1544, t=1094, b=1359,
         yv=[0, 0.2, 0.4, 0.6, 0.8, 1.0, 1.2, 1.4], expr=LBL_E2,
         xt="log₂[DAPT]", xtx=1352, xty=43, ytx=-91, yty=1222, title="DAPT", tpos=(1351, 1090),
         X=E2_X, M=E2_MEAN, E=E2_ERR, CX=E2_CX, CY=E2_CURVE, legend=None),
]
for g in DE_GEOM:
    p = Panel(g["xdom"], g["ydom"], g["l"], g["r"], g["t"], g["b"])
    p.add(axis_layer(p, ax_bottom(p, 18, list(range(g["xdom"][0], g["xdom"][1] + 1)), g["xt"], 18, g["xty"],
                                  tx=g["xtx"], tick=8, w=2.5, pad=5),
                     ax_left(p, 19.5, g["yv"], "Luminescence (RLU)", 20, g["ytx"], g["yty"], tick=5, w=2.5, pad=4,
                             expr=g["expr"])))
    p.add(xminor(p, log_minors(g["xdom"][0], g["xdom"][1], 1), 5, 1.3))
    for i in DE_ORDER:
        p.add(*series(p, g["X"], g["M"][i], g["E"][i], DE_COLORS[i], line_w=DE_LW[i], size=150,
                      stroke="black", sw=1.5, err_color="black", err_w=2.0, cap_px=7, cx=g["CX"], cy=g["CY"][i]))
    p.add(ptext(g["tpos"][0], g["tpos"][1], g["title"], 19, align="center"))
    if g["legend"]:
        for i, yy in enumerate(g["legend"]):
            p.add(prule(655, yy, 677, yy, DE_COLORS[i], DE_LW[i]))
            p.add(ppoint(665, yy, DE_COLORS[i], 150, stroke="black", sw=1.5))
            p.add(ptext(685, yy, DE_SERIES[i], 19))
    panels.append(p)

# ---------------- F ----------------
FG_FILL = ["white", "#C8C8C8"]
FG_PT = ["black", "#9E9E9E"]
pF = Panel((-0.914, 1.868), (0, 8), 137, 379, 1495, 1857)
pF.add(axis_layer(pF, ax_bottom(pF, labels=False, ticks=False, w=3.5, expr=None),
                  ax_left(pF, 28, [0, 2, 4, 6, 8], "Relative NF-κB Reporter Activity", 23, -49, 1671, tick=8,
                          w=3.5, pad=1)))
bhw = 0.408
fb = pd.DataFrame({"x1": [i - bhw for i in range(2)], "x2": [i + bhw for i in range(2)], "y0": [0, 0],
                   "y1": F_MEAN, "fc": FG_FILL})
pF.add(alt.Chart(fb).mark_rect(stroke="black", strokeWidth=4).encode(
    x=pF.X("x1"), x2="x2", y=pF.Y("y0"), y2="y1", fill=alt.Fill("fc:N", scale=None)))
cu = 16 * pF.upx()
fe = pd.DataFrame({"ex": [0, 1], "e0": F_MEAN, "e1": [m + e for m, e in zip(F_MEAN, F_ERR)],
                   "cl": [-cu, 1 - cu], "cr": [cu, 1 + cu]})
pF.add(alt.Chart(fe).mark_rule(color="black", strokeWidth=4).encode(x=pF.X("ex"), y=pF.Y("e0"), y2="e1"))
pF.add(alt.Chart(fe).mark_rule(color="black", strokeWidth=4).encode(x=pF.X("cl"), x2="cr", y=pF.Y("e1")))
F_OFFS = [[-0.276, 0.0, 0.276], [0.0, 0.0, 0.0]]
fp = pd.DataFrame({"fx": [i + o for i in range(2) for o in F_OFFS[i]],
                   "fy": [v for i in range(2) for v in F_POINTS[i]],
                   "fc": [FG_PT[i] for i in range(2) for _ in F_POINTS[i]]})
pF.add(alt.Chart(fp).mark_circle(size=140, opacity=1, stroke="black", strokeWidth=3).encode(
    x=pF.X("fx"), y=pF.Y("fy"), fill=alt.Fill("fc:N", scale=None)))
fbr = pd.DataFrame({"bx": [-0.18], "bx2": [1.0], "by": [6.84]})
pF.add(alt.Chart(fbr).mark_rule(color="black", strokeWidth=3).encode(x=pF.X("bx"), x2="bx2", y=pF.Y("by")))
flg = pd.DataFrame({"lx": [-0.18, 1.0], "l0": [6.73, 6.73], "l1": [6.84, 6.84]})
pF.add(alt.Chart(flg).mark_rule(color="black", strokeWidth=3).encode(x=pF.X("lx"), y=pF.Y("l0"), y2="l1"))
pF.add(stars(pF, 0.42, 7.23, "**", 38))
for i, yy in enumerate([1471, 1496]):
    pF.add(ppoint(158, yy, FG_PT[i], 330, stroke="black", sw=3))
    pF.add(ptext(179, yy, FG_GROUPS[i], 24))
panels.append(pF)

# ---------------- G ----------------
pG = Panel((-0.489, 1.397), (0, 5), 511, 860, 1501, 1862)
pG.add(axis_layer(pG, ax_bottom(pG, 23, [0, 1], None, tick=0, w=3.5, pad=6, ticks=False,
                                expr="datum.value == 0 ? 'Hes1' : 'Hes5'"),
                  ax_left(pG, 28, [0, 1, 2, 3, 4, 5], "Relative Notch Reporter Activity", 23, -45, 1676, tick=7,
                          w=3.5, pad=1)))
goff = 0.168
ghw = 0.138
gb_rows = []
for gi in range(2):
    for j in range(2):
        xc = gi + (2 * j - 1) * goff
        gb_rows.append(dict(x1=xc - ghw, x2=xc + ghw, y0=0, y1=G_MEAN[gi][j], fc=FG_FILL[j], xc=xc,
                            e1=G_MEAN[gi][j] + G_ERR[gi][j]))
gb = pd.DataFrame(gb_rows)
pG.add(alt.Chart(gb).mark_rect(stroke="black", strokeWidth=4).encode(
    x=pG.X("x1"), x2="x2", y=pG.Y("y0"), y2="y1", fill=alt.Fill("fc:N", scale=None)))
gcu = 15 * pG.upx()
gb["cl"] = gb["xc"] - gcu
gb["cr"] = gb["xc"] + gcu
pG.add(alt.Chart(gb).mark_rule(color="black", strokeWidth=4).encode(x=pG.X("xc"), y=pG.Y("y1"), y2="e1"))
pG.add(alt.Chart(gb).mark_rule(color="black", strokeWidth=4).encode(x=pG.X("cl"), x2="cr", y=pG.Y("e1")))
G_SPREAD = [0.114, 0.073]
gp_rows = []
for gi in range(2):
    for j in range(2):
        xc = gi + (2 * j - 1) * goff
        for r, v in enumerate(G_POINTS[gi][j]):
            gp_rows.append(dict(gx=xc + (r - 1) * G_SPREAD[gi], gy=v, fc=FG_PT[j]))
gp = pd.DataFrame(gp_rows)
pG.add(alt.Chart(gp).mark_circle(size=140, opacity=1, stroke="black", strokeWidth=3).encode(
    x=pG.X("gx"), y=pG.Y("gy"), fill=alt.Fill("fc:N", scale=None)))
gbr = pd.DataFrame({"bx": [-0.224, 0.754], "bx2": [0.186, 1.17], "by": [2.58, 4.25], "bl": [2.49, 4.17]})
pG.add(alt.Chart(gbr).mark_rule(color="black", strokeWidth=3).encode(x=pG.X("bx"), x2="bx2", y=pG.Y("by")))
pG.add(alt.Chart(gbr).mark_rule(color="black", strokeWidth=3).encode(x=pG.X("bx"), y=pG.Y("bl"), y2="by"))
pG.add(alt.Chart(gbr).mark_rule(color="black", strokeWidth=3).encode(x=pG.X("bx2"), y=pG.Y("bl"), y2="by"))
pG.add(stars(pG, -0.02, 2.81, "***", 39))
pG.add(stars(pG, 0.96, 4.52, "***", 39))
for i, yy in enumerate([1481, 1507]):
    pG.add(ppoint(530, yy, FG_PT[i], 330, stroke="black", sw=3))
    pG.add(ptext(553, yy, FG_GROUPS[i], 24))
panels.append(pG)

# ---------------- H ----------------
H_FILL = ["black", "#9E9E9E", RED, BLUE, "white", "#2DEFEF", "#FF9A1A", "#FF44F0"]
H_LINE = ["black", "black", "black", BLUE, "black", "#2DEFEF", "#FF9A1A", "#FF44F0"]
H_ORDER = [3, 2, 1, 6, 7, 5, 0, 4]
pH = Panel((0, 12), (0, 2500), 990, 1468, 1459, 1855)
pH.add(axis_layer(pH, ax_bottom(pH, 21, H_TIME, "Time (d)", 19, 43, tx=1229, tick=7, w=2.5, pad=4),
                  ax_left(pH, 21, list(range(0, 2501, 500)), "3D Outgrowth (RLU)", 21, -80, 1652, tick=6,
                          w=2.5, pad=4)))
for i in H_ORDER:
    pH.add(*series(pH, H_TIME, H_MEAN[i], H_ERR[i], H_FILL[i], line_color=H_LINE[i], line_w=2.8, size=150,
                   stroke="black", sw=1.8, err_color="black", err_w=2.2, cap_px=7))
for i, yy in enumerate([1463, 1491, 1519, 1547, 1575, 1600, 1626, 1652]):
    pH.add(prule(1002, yy, 1024, yy, H_LINE[i], 2.8))
    pH.add(ppoint(1013, yy, H_FILL[i], 150, stroke="black", sw=1.8))
    pH.add(ptext(1035, yy, H_SERIES[i], 21))
pH.add(stars(pH, 12, 2026, "**", 37))
panels.append(pH)

# ---------------- panel letters ----------------
LETTERS = [("A", 77, 49, 48), ("B", 9, 676, 46), ("C", 515, 37, 44), ("D", 536, 700, 48), ("E", 540, 1068, 48),
           ("F", 78, 1460, 48), ("G", 455, 1467, 48), ("H", 880, 1454, 48)]
decor = [ptext(x, y, t, s, weight="bold") for t, x, y, s in LETTERS]

chart = (alt.layer(*[p.chart() for p in panels], *decor)
         .resolve_scale(x="independent", y="independent")
         .properties(width=CW, height=CH, padding=0)
         .configure(font=FONT)
         .configure_view(stroke=None))

chart.save("out.html", embed_options={"renderer": "svg", "actions": False})
